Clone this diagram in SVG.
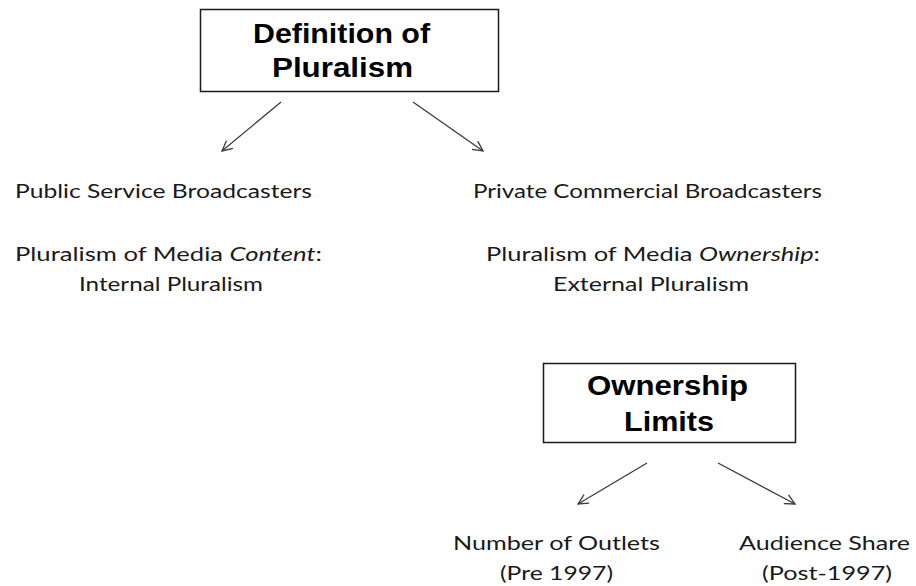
<svg xmlns="http://www.w3.org/2000/svg" width="916" height="586" viewBox="0 0 916 586">
  <defs>
    <style>
      .box { fill: #ffffff; stroke: #1a1a1a; stroke-width: 1.5; }
      .title { font-family: "Liberation Sans", Arial, sans-serif; font-weight: bold; font-size: 27px; fill: #000000; }
      .lbl { font-family: Lato, "Liberation Sans", sans-serif; font-size: 18.5px; fill: #1a1a1a; }
      .conn { stroke: #3a3a3a; stroke-width: 1.3; fill: none; marker-end: url(#arr); }
    </style>
    <marker id="arr" viewBox="0 0 12 12" refX="11" refY="6" markerWidth="12" markerHeight="12" markerUnits="userSpaceOnUse" orient="auto">
      <path d="M1,1 L11,6 L1,11" fill="none" stroke="#3a3a3a" stroke-width="1.3"/>
    </marker>
  </defs>
  <rect width="916" height="586" fill="#ffffff"/>

  <g id="definition">
    <rect class="box" x="200.5" y="9.5" width="298" height="82"/>
    <text class="title" x="253" y="43" textLength="177" lengthAdjust="spacingAndGlyphs">Definition of</text>
    <text class="title" x="272" y="77" textLength="141" lengthAdjust="spacingAndGlyphs">Pluralism</text>
  </g>

  <g id="public">
    <text class="lbl" x="15" y="198" textLength="297" lengthAdjust="spacingAndGlyphs">Public Service Broadcasters</text>
    <text class="lbl" x="15" y="261" textLength="307" lengthAdjust="spacingAndGlyphs">Pluralism of Media <tspan font-style="italic">Content</tspan>:</text>
    <text class="lbl" x="79" y="291" textLength="184" lengthAdjust="spacingAndGlyphs">Internal Pluralism</text>
  </g>

  <g id="private">
    <text class="lbl" x="473" y="198" textLength="349" lengthAdjust="spacingAndGlyphs">Private Commercial Broadcasters</text>
    <text class="lbl" x="486" y="261" textLength="334" lengthAdjust="spacingAndGlyphs">Pluralism of Media <tspan font-style="italic">Ownership</tspan>:</text>
    <text class="lbl" x="553" y="291" textLength="196" lengthAdjust="spacingAndGlyphs">External Pluralism</text>
  </g>

  <g id="ownership">
    <rect class="box" x="543.5" y="363.5" width="252" height="79"/>
    <text class="title" x="587" y="395" textLength="161" lengthAdjust="spacingAndGlyphs">Ownership</text>
    <text class="title" x="624" y="431" textLength="90" lengthAdjust="spacingAndGlyphs">Limits</text>
  </g>

  <g id="outlets">
    <text class="lbl" x="453" y="550" textLength="207" lengthAdjust="spacingAndGlyphs">Number of Outlets</text>
    <text class="lbl" x="500" y="580" textLength="113" lengthAdjust="spacingAndGlyphs">(Pre 1997)</text>
  </g>

  <g id="audience">
    <text class="lbl" x="739" y="550" textLength="171" lengthAdjust="spacingAndGlyphs">Audience Share</text>
    <text class="lbl" x="762" y="580" textLength="130" lengthAdjust="spacingAndGlyphs">(Post-1997)</text>
  </g>

  <g id="connectors">
    <line class="conn" x1="281" y1="102" x2="222" y2="151"/>
    <line class="conn" x1="413" y1="102" x2="483" y2="151"/>
    <line class="conn" x1="647" y1="463" x2="578" y2="504"/>
    <line class="conn" x1="718" y1="463" x2="795" y2="504"/>
  </g>
</svg>
